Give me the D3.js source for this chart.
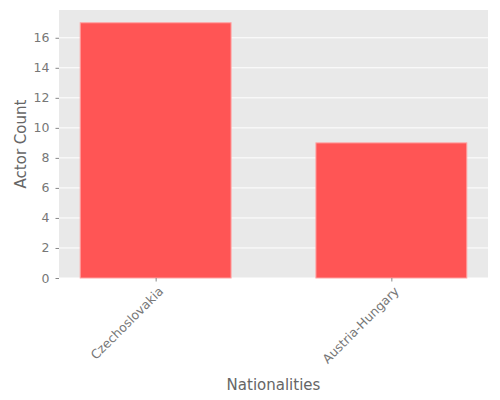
<!DOCTYPE html>
<html>
<head>
<meta charset="utf-8">
<script src="https://cdn.jsdelivr.net/npm/d3@7"></script>
<style>
  body { margin: 0; background: #fff; }
  text { font-family: "DejaVu Sans", sans-serif; }
</style>
</head>
<body>
<svg id="chart" width="500" height="400"></svg>
<script>
// chart data
const nationalities = ['Czechoslovakia', 'Austria-Hungary'];
const actorCounts = [17, 9];
const yTicks = [0, 2, 4, 6, 8, 10, 12, 14, 16];

const margin = { top: 10, right: 12, bottom: 122, left: 59 };
const width = 500 - margin.left - margin.right;
const height = 400 - margin.top - margin.bottom;
const barWidth = 0.64;
const pad = 0.09;

const svg = d3.select('#chart');
const g = svg.append('g')
  .attr('transform', `translate(${margin.left},${margin.top})`);

// bar index scale, padded on both sides
const x = d3.scaleLinear()
  .domain([-barWidth / 2 - pad, nationalities.length - 1 + barWidth / 2 + pad])
  .range([0, width]);

const y = d3.scaleLinear()
  .domain([0, d3.max(actorCounts) * 1.05])
  .range([height, 0]);

// panel background
g.append('rect')
  .attr('width', width)
  .attr('height', height)
  .attr('fill', '#e9e9e9');

// grid lines
g.selectAll('.grid')
  .data(yTicks)
  .join('line')
  .attr('class', 'grid')
  .attr('x1', 0)
  .attr('x2', width)
  .attr('y1', (d) => y(d))
  .attr('y2', (d) => y(d))
  .attr('stroke', '#fff')
  .attr('stroke-width', 1);

// bars
g.selectAll('.bar')
  .data(actorCounts)
  .join('rect')
  .attr('class', 'bar')
  .attr('x', (d, i) => x(i - barWidth / 2))
  .attr('y', (d) => y(d))
  .attr('width', (d, i) => x(i + barWidth / 2) - x(i - barWidth / 2))
  .attr('height', (d) => y(0) - y(d))
  .attr('fill', '#ff5555')
  .attr('stroke', '#ffa3a3')
  .attr('stroke-width', 1);

// y axis
const yAxis = g.append('g')
  .call(d3.axisLeft(y).tickValues(yTicks).tickSize(3.5).tickPadding(6));
yAxis.select('.domain').remove();
yAxis.selectAll('line').attr('stroke', '#888');
yAxis.selectAll('text')
  .attr('fill', '#777')
  .attr('font-size', 12.5);

// x axis
const xAxis = g.append('g')
  .attr('transform', `translate(0,${height})`)
  .call(d3.axisBottom(x).tickValues(nationalities.map((d, i) => i)).tickSize(3.5)
    .tickFormat((i) => nationalities[i]));
xAxis.select('.domain').remove();
xAxis.selectAll('line').attr('stroke', '#888');
xAxis.selectAll('text')
  .attr('fill', '#777')
  .attr('font-size', 12.5)
  .attr('text-anchor', 'end')
  .attr('dy', null)
  .attr('y', 0)
  .attr('transform', 'translate(8,14) rotate(-45)');

// axis titles
svg.append('text')
  .attr('x', margin.left + width / 2)
  .attr('y', 390)
  .attr('text-anchor', 'middle')
  .attr('fill', '#666')
  .attr('font-size', 15)
  .text('Nationalities');

svg.append('text')
  .attr('transform', `translate(26,${margin.top + height / 2}) rotate(-90)`)
  .attr('text-anchor', 'middle')
  .attr('fill', '#666')
  .attr('font-size', 15)
  .text('Actor Count');
</script>
</body>
</html>
